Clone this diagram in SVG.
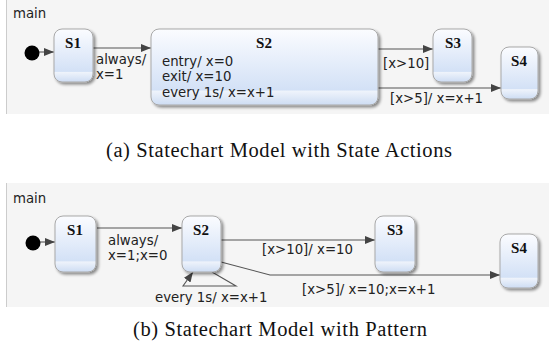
<svg xmlns="http://www.w3.org/2000/svg" width="549" height="345" viewBox="0 0 549 345">
<defs>
<linearGradient id="g" x1="0" y1="0" x2="0" y2="1">
<stop offset="0" stop-color="#fbfcff"/>
<stop offset="0.8" stop-color="#d3e1f6"/>
<stop offset="0.82" stop-color="#eef3fb"/>
<stop offset="1" stop-color="#cddcf3"/>
</linearGradient>
<filter id="sh" x="-20%" y="-20%" width="150%" height="150%">
<feGaussianBlur in="SourceAlpha" stdDeviation="1.5"/>
<feOffset dx="1.5" dy="2" result="b"/>
<feComponentTransfer><feFuncA type="linear" slope="0.45"/></feComponentTransfer>
<feMerge><feMergeNode/><feMergeNode in="SourceGraphic"/></feMerge>
</filter>
<marker id="ar" viewBox="0 0 10 8" refX="10" refY="4" markerWidth="10" markerHeight="8" markerUnits="userSpaceOnUse" orient="auto">
<path d="M0,0 L10,4 L0,8 z" fill="#444"/>
</marker>
</defs>
<style>
.panel{fill:#f5f5f5;stroke:none}
.edge{stroke:#cccccc;stroke-width:1}
.st{fill:url(#g);stroke:#a8a8a8;stroke-width:1;filter:url(#sh)}
.nm{font-family:"Liberation Serif","Times New Roman",serif;font-weight:bold;font-size:15px;fill:#111;text-anchor:middle}
.t{font-family:"DejaVu Sans",Verdana,sans-serif;font-size:13.3px;fill:#222}
.cap{font-family:"Liberation Serif","Times New Roman",serif;font-size:20.5px;fill:#111}
.ln{stroke:#555;stroke-width:1.1;fill:none}
</style>

<!-- Panel (a) -->
<g id="panel-a">
<rect class="panel" x="6" y="0" width="543" height="114"/>
<line class="edge" x1="6.5" y1="0" x2="6.5" y2="114"/>
<text class="t" x="13" y="18">main</text>
</g>
<g id="a-connectors">
<line class="ln" x1="39" y1="52" x2="54" y2="52" marker-end="url(#ar)"/>
<line class="ln" x1="93" y1="48" x2="151" y2="48" marker-end="url(#ar)"/>
<line class="ln" x1="378" y1="49" x2="433" y2="49" marker-end="url(#ar)"/>
<line class="ln" x1="378" y1="88" x2="501" y2="88" marker-end="url(#ar)"/>
<text class="t" x="96" y="64">always/</text>
<text class="t" x="96" y="79">x=1</text>
<text class="t" x="383" y="68">[x&gt;10]</text>
<text class="t" x="390" y="103">[x&gt;5]/ x=x+1</text>
</g>
<g id="a-init"><circle cx="32" cy="53" r="7.5" fill="#000"/></g>
<g id="a-S1"><rect class="st" x="54" y="29" width="39" height="53" rx="8"/><text class="nm" x="73" y="48">S1</text></g>
<g id="a-S2"><rect class="st" x="151" y="29" width="227" height="76" rx="8"/><text class="nm" x="264" y="48">S2</text>
<text class="t" x="162" y="66">entry/ x=0</text>
<text class="t" x="162" y="81">exit/ x=10</text>
<text class="t" x="162" y="97">every 1s/ x=x+1</text></g>
<g id="a-S3"><rect class="st" x="433" y="29" width="39" height="53" rx="8"/><text class="nm" x="453" y="48">S3</text></g>
<g id="a-S4"><rect class="st" x="501" y="47" width="37" height="52" rx="8"/><text class="nm" x="519" y="66">S4</text></g>

<text class="cap" x="106" y="157" textLength="346" lengthAdjust="spacing">(a) Statechart Model with State Actions</text>

<!-- Panel (b) -->
<g id="panel-b">
<rect class="panel" x="6" y="183" width="543" height="124"/>
<line class="edge" x1="6.5" y1="183" x2="6.5" y2="307"/>
<text class="t" x="13" y="203">main</text>
</g>
<g id="b-connectors">
<line class="ln" x1="40" y1="242" x2="55" y2="242" marker-end="url(#ar)"/>
<line class="ln" x1="97" y1="228" x2="182" y2="228" marker-end="url(#ar)"/>
<line class="ln" x1="221" y1="240" x2="375" y2="240" marker-end="url(#ar)"/>
<polyline class="ln" points="221,262 270,275 500,275" marker-end="url(#ar)"/>
<polyline class="ln" points="212,272 236,286 183,286 193,272" marker-end="url(#ar)"/>
<text class="t" x="108" y="245">always/</text>
<text class="t" x="108" y="260">x=1;x=0</text>
<text class="t" x="262" y="254">[x&gt;10]/ x=10</text>
<text class="t" x="302" y="294">[x&gt;5]/ x=10;x=x+1</text>
<text class="t" x="155" y="302">every 1s/ x=x+1</text>
</g>
<g id="b-init"><circle cx="33" cy="243" r="7.5" fill="#000"/></g>
<g id="b-S1"><rect class="st" x="55" y="216" width="41" height="56" rx="8"/><text class="nm" x="75" y="235">S1</text></g>
<g id="b-S2"><rect class="st" x="182" y="216" width="39" height="56" rx="8"/><text class="nm" x="201" y="235">S2</text></g>
<g id="b-S3"><rect class="st" x="375" y="216" width="40" height="56" rx="8"/><text class="nm" x="395" y="235">S3</text></g>
<g id="b-S4"><rect class="st" x="500" y="234" width="38" height="54" rx="8"/><text class="nm" x="519" y="253">S4</text></g>

<text class="cap" x="133" y="336" textLength="294" lengthAdjust="spacing">(b) Statechart Model with Pattern</text>
</svg>
